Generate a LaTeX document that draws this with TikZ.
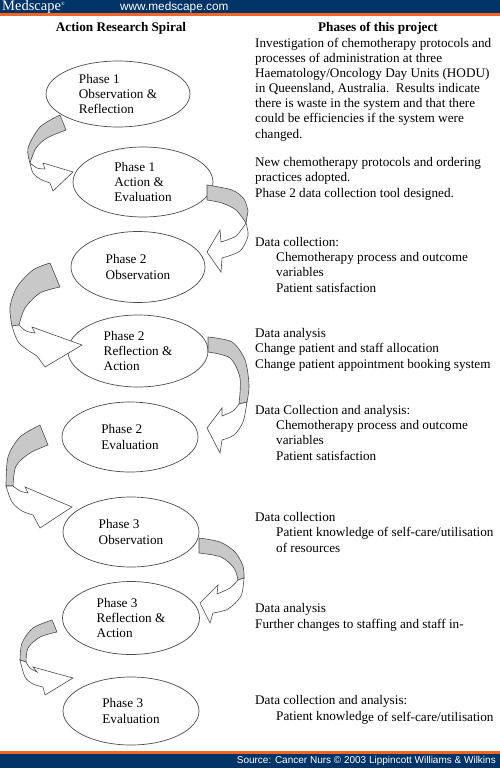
\documentclass[tikz,border=0pt]{standalone}
\usepackage{fontspec}
\setmainfont{Liberation Serif}
\setsansfont{Liberation Sans}
\usepackage{xcolor}
\usetikzlibrary{positioning,shapes.geometric}

\definecolor{medblue}{HTML}{003366}
\definecolor{medorange}{HTML}{F26522}
\definecolor{bandgray}{HTML}{C8C8C8}
\definecolor{edgegray}{HTML}{4A4A4A}

\tikzset{
  phase/.style={ellipse, draw=edgegray, line width=0.7pt, inner sep=0pt, align=left,
    font=\fontsize{13.2}{15.4}\selectfont},
  backband/.style={draw=edgegray, fill=bandgray, line width=0.6pt, line join=round},
  frontband/.style={draw=edgegray, fill=white, line width=0.6pt},
  heading/.style={font=\fontsize{13.2}{15.4}\selectfont\bfseries, anchor=base, inner sep=0pt},
  note/.style={font=\fontsize{13.2}{15.1}\selectfont, align=left, anchor=base west, inner sep=0pt},
}

\newcommand{\curlarrow}[5]{%
  \filldraw[backband] plot[smooth] coordinates {#1} -- plot[smooth] coordinates {#2} -- cycle;
  \filldraw[frontband] plot[smooth] coordinates {#3} -- #4 -- plot[smooth] coordinates {#5} -- cycle;
}
\newcommand{\ind}{\hspace*{21pt}}

\begin{document}
\begin{tikzpicture}[x=1pt,y=-1pt]
\useasboundingbox (0,0) rectangle (500,768);
\fill[white] (0,0) rectangle (500,768);
\fill[medblue] (0,0) rectangle (500,13.5);
\fill[medorange] (0,13.5) rectangle (500,16);
\fill[medorange] (0,751) rectangle (500,753.5);
\fill[medblue] (0,753.5) rectangle (500,768);
\node[anchor=west, inner sep=0pt, text=white, font=\fontsize{14.5}{14.5}\selectfont] (brand) at (2,7) {Medscape\textsuperscript{\tiny\textregistered}};
\node[anchor=west, inner sep=0pt, text=white, font=\sffamily\fontsize{11.8}{12}\selectfont] (site) at (120,7.5) {www.medscape.com};
\node[anchor=east, inner sep=0pt, text=white, font=\sffamily\fontsize{10}{11}\selectfont] (source) at (496,761) {Source: Cancer Nurs \textcopyright{} 2003 Lippincott Williams \& Wilkins};

\node[heading] (spiral) at (121,32) {Action Research Spiral};
\node[heading] (phases) at (378,32) {Phases of this project};

\node[phase, minimum width=144pt, minimum height=66pt] (e1) at (118,94) {Phase 1\\Observation \&\\Reflection};
\node[phase, minimum width=140pt, minimum height=70pt] (e2) at (143,182) {Phase 1\\Action \&\\Evaluation};
\node[phase, minimum width=134pt, minimum height=71pt] (e3) at (138,267) {Phase 2\\Observation};
\node[phase, minimum width=140pt, minimum height=72pt] (e4) at (138,351) {Phase 2\\Reflection \&\\Action};
\node[phase, minimum width=136pt, minimum height=70pt] (e5) at (130,437) {Phase 2\\Evaluation};
\node[phase, minimum width=136pt, minimum height=70pt] (e6) at (131,532) {Phase 3\\Observation};
\node[phase, minimum width=137pt, minimum height=73pt] (e7) at (131,618) {Phase 3\\Reflection \&\\Action};
\node[phase, minimum width=136pt, minimum height=68pt] (e8) at (131,711) {Phase 3\\Evaluation};

\curlarrow{(60,115) (40,127) (28,148) (30,163)}{(30,163) (36,148) (47,138) (66,130)}{(30,163) (33,173) (40,179) (50,183)}{(53,191) -- (73,172) -- (43,163) -- (45,169)}{(45,169) (37,168) (30,163)}
\curlarrow{(207,185) (232,190) (244,199) (248,211)}{(246,223) (236,210) (222,203) (207,200)}{(246,223) (248,236) (240,251) (222,258)}{(221,272) -- (207,252) -- (220,230) -- (221,242)}{(221,242) (236,236) (246,223)}
\curlarrow{(50,263) (33,270) (17,287) (10,307) (12,326)}{(19,325) (25,308) (40,293) (60,287)}{(12,326) (19,343) (37,356)}{(45,367) -- (82,345) -- (32,327) -- (35,333)}{(35,333) (26,331) (19,325)}
\curlarrow{(208,337) (232,342) (245,360) (249,385) (247,402)}{(239,404) (240,378) (230,358) (208,352)}{(247,402) (243,422) (234,435) (222,440)}{(220,453) -- (207,428) -- (222,408) -- (222,416)}{(222,416) (233,411) (239,404)}
\curlarrow{(40,425) (20,437) (8,457) (6,486)}{(13,486) (16,466) (30,453) (48,445)}{(6,486) (12,502) (22,511) (33,515)}{(40,528) -- (72,507) -- (25,487) -- (28,493)}{(28,493) (20,491) (13,486)}
\curlarrow{(199,538) (220,542) (235,552) (243,566) (244,578)}{(238,580) (234,568) (221,557) (199,553)}{(244,578) (241,596) (228,609) (213,613)}{(210,623) -- (200,603) -- (218,585) -- (217,594)}{(217,594) (230,588) (238,580)}
\curlarrow{(52,620) (33,628) (22,643) (20,660)}{(26,662) (28,648) (40,637) (57,632)}{(20,660) (25,677) (33,684) (43,687)}{(45,695) -- (73,678) -- (33,667) -- (37,672)}{(37,672) (30,668) (26,662)}

\node[note] (n1) at (255,138) {Investigation of chemotherapy protocols and\\processes of administration at three\\Haematology/Oncology Day Units (HODU)\\in Queensland, Australia.\ \ Results indicate\\there is waste in the system and that there\\could be efficiencies if the system were\\changed.};
\node[note] (n2) at (255,197) {New chemotherapy protocols and ordering\\practices adopted.\\Phase 2 data collection tool designed.};
\node[note] (n3) at (255,292) {Data collection:\\\ind Chemotherapy process and outcome\\\ind variables\\\ind Patient satisfaction};
\node[note] (n4) at (255,368) {Data analysis\\Change patient and staff allocation\\Change patient appointment booking system};
\node[note] (n5) at (255,460) {Data Collection and analysis:\\\ind Chemotherapy process and outcome\\\ind variables\\\ind Patient satisfaction};
\node[note] (n6) at (255,552) {Data collection\\\ind Patient knowledge of self-care/utilisation\\\ind of resources};
\node[note] (n7) at (255,628) {Data analysis\\Further changes to staffing and staff in-};
\node[note] (n8) at (255,720) {Data collection and analysis:\\\ind Patient knowled\raisebox{-1.5pt}{ge of self-care/utilisation}};
\end{tikzpicture}
\end{document}
